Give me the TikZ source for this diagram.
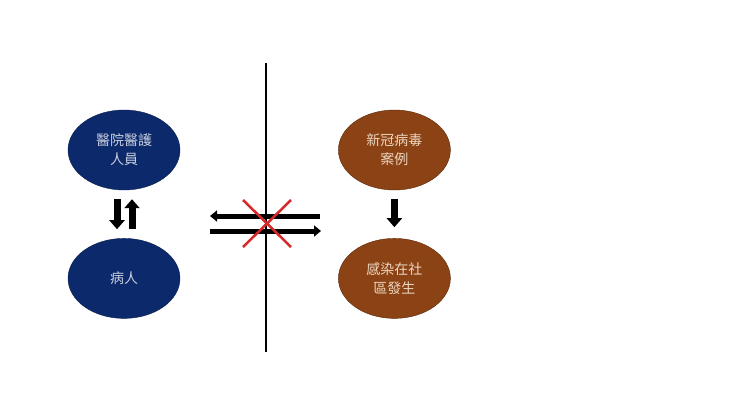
\documentclass[tikz,border=0pt]{standalone}
\usepackage{fontspec}
\newfontfamily\cjk{Noto Sans CJK TC}
\usepackage{tikz}
\usetikzlibrary{positioning,shapes.geometric}
\usetikzlibrary{arrows.meta}
\definecolor{navy}{RGB}{12,42,107}
\definecolor{navytext}{RGB}{200,206,222}
\definecolor{rust}{RGB}{139,66,20}
\definecolor{rustedge}{RGB}{90,40,10}
\definecolor{rusttext}{RGB}{236,214,192}
\definecolor{cross}{RGB}{214,40,40}

\begin{document}
\begin{tikzpicture}[
  x=1pt, y=-1pt,
  blob/.style = {
    draw,
    ellipse,
    inner sep = 0pt,
    minimum width = 112pt,
    minimum height = 80pt,
    align = center,
    font = \cjk\fontsize{14}{19}\selectfont,
  },
  staff/.style = {
    blob,
    draw = navy!70!black,
    fill = navy,
    text = navytext,
  },
  virus/.style = {
    blob,
    draw = rustedge,
    fill = rust,
    text = rusttext,
  },
  block/.style = {
    line width = 7pt,
    -{Triangle[length=9pt,width=15pt]},
  },
  flow/.style = {
    line width = 5pt,
    -{Triangle[length=7pt,width=11pt]},
  },
]

  \useasboundingbox[fill=white] (0,0) rectangle (740,416);

  \node[staff] (hw) at (124,150) {醫院醫護\\人員};
  \node[staff] (pt) [below=48pt of hw] {病人};
  \node[virus] (cv) [right=158pt of hw] {新冠病毒\\案例};
  \node[virus] (cs) [below=48pt of cv] {感染在社\\區發生};

  \draw[block] ([xshift=-7pt,yshift=-9pt]hw.south) -- ([xshift=-7pt,yshift=9pt]pt.north);
  \draw[block] ([xshift=8pt,yshift=9pt]pt.north) -- ([xshift=8pt,yshift=-9pt]hw.south);
  \draw[block] ([yshift=-9pt]cv.south) -- ([yshift=11pt]cs.north);

  % divider
  \coordinate (top) at (266,63);
  \coordinate (bot) at (266,352);
  \draw[line width=1.5pt] (top) -- (bot);

  % blocked flows
  \coordinate (fl0) at (320,216);
  \coordinate (fl1) at (210,216);
  \coordinate (fr0) at (210,231);
  \coordinate (fr1) at (321,231);
  \draw[flow] (fl0) -- (fl1);
  \draw[flow] (fr0) -- (fr1);

  \coordinate (x0) at (243,200);
  \coordinate (x1) at (291,247);
  \coordinate (x2) at (291,200);
  \coordinate (x3) at (243,247);
  \draw[cross,line width=2.5pt] (x0) -- (x1);
  \draw[cross,line width=2.5pt] (x2) -- (x3);

\end{tikzpicture}
\end{document}
